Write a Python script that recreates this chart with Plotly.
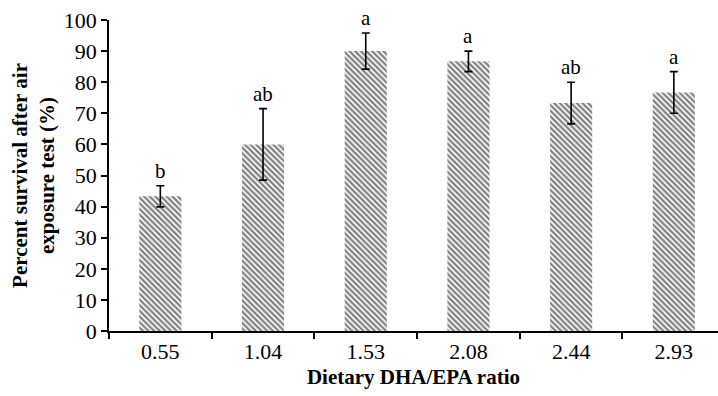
import plotly.graph_objects as go

categories = ["0.55", "1.04", "1.53", "2.08", "2.44", "2.93"]
survival = [43.3, 60.0, 90.0, 86.7, 73.3, 76.7]
errors = [3.4, 11.5, 5.8, 3.3, 6.7, 6.7]
letters = ["b", "ab", "a", "a", "ab", "a"]

font_family = "Liberation Serif, Times New Roman, serif"

fig = go.Figure()
fig.add_trace(go.Bar(
    x=list(range(len(categories))),
    y=survival,
    width=0.41,
    marker=dict(
        color="white",
        line=dict(width=0),
        pattern=dict(shape="\\", fgcolor="#000000", bgcolor="white", size=4, solidity=0.55),
    ),
    error_y=dict(type="data", array=errors, visible=True, color="black", thickness=1.6, width=4),
    showlegend=False,
))

for i, (v, e, l) in enumerate(zip(survival, errors, letters)):
    fig.add_annotation(x=i, y=v + e, text=l, showarrow=False, yanchor="bottom", yshift=2,
                       borderpad=0, font=dict(family=font_family, size=21, color="black"))

fig.update_layout(
    width=718, height=396,
    margin=dict(l=109, r=0, t=20, b=65),
    plot_bgcolor="white", paper_bgcolor="white",
    font=dict(family=font_family, size=21, color="black"),
)
fig.update_xaxes(
    range=[-0.5, 5.43], automargin=False,
    tickmode="array", tickvals=list(range(len(categories))), ticktext=categories,
    showline=True, linecolor="black", linewidth=1.5,
    ticks="", showgrid=False, zeroline=False,
    tickfont=dict(family=font_family, size=22),
    title=dict(text="<b>Dietary DHA/EPA ratio</b>", font=dict(family=font_family, size=21), standoff=6),
    minor=dict(tickmode="array", tickvals=[i - 0.5 for i in range(len(categories))],
               ticks="outside", ticklen=6, tickwidth=1.5, tickcolor="black", showgrid=False),
)
fig.update_yaxes(
    range=[0, 100], dtick=10, automargin=False, ticklabeloverflow="allow",
    showline=True, linecolor="black", linewidth=1.5,
    ticks="outside", ticklen=6, tickwidth=1.5, tickcolor="black",
    showgrid=False, zeroline=False,
    tickfont=dict(family=font_family, size=22),
    title=dict(text="<b>Percent survival after air<br>exposure test (%)</b>", font=dict(family=font_family, size=21), standoff=3),
)

fig.write_html("out.html", config={"displayModeBar": False},
               post_script="document.body.style.margin='0';")
